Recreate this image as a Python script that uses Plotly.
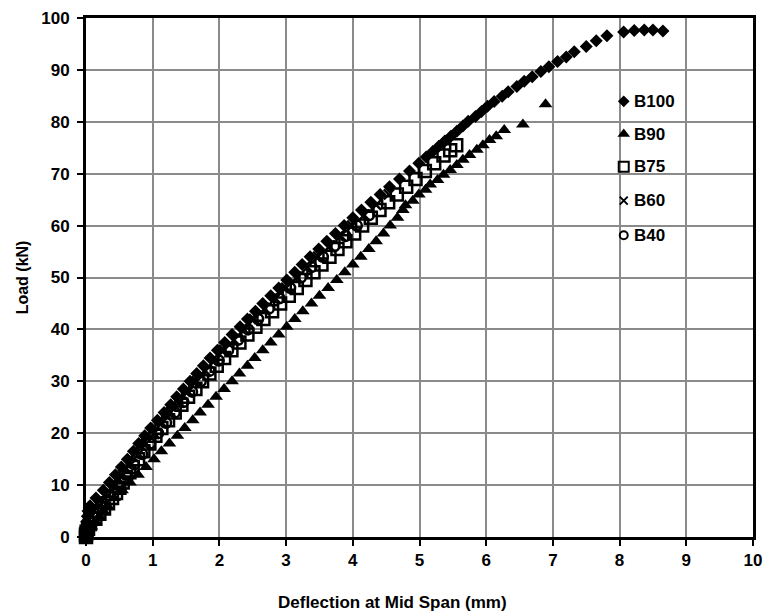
import plotly.graph_objects as go

# ---- data (deflection in mm, load in kN) ----
b100_load = [0, 1, 2, 3, 4, 5, 6, 7.5, 9, 10.5, 12, 13.5, 15, 16.5, 18, 19.5, 21, 22.5, 24, 25.5,
             27, 28.5, 30, 31.5, 33, 34.5, 36, 37.5, 39, 40.5, 42, 43.5, 45, 46.5, 48, 49.5, 51, 52.5,
             54, 55.5, 57, 58.5, 60, 61.5, 63, 64.5, 66, 67.5, 69, 70.5, 72, 73.2, 74.3, 75.3, 76.3,
             77.2, 78.2, 79.2, 80.1, 81.0, 82.0, 83.0, 83.9, 84.9, 85.8, 86.8, 87.8, 88.7, 89.7, 90.6,
             91.6, 92.5, 93.5, 94.5, 95.6, 96.6, 97.3, 97.6, 97.7, 97.7, 97.5]
b100_defl = [0, 0, 0, 0.01, 0.02, 0.03, 0.06, 0.15, 0.26, 0.35, 0.44, 0.53, 0.62, 0.71, 0.79, 0.88, 0.97, 1.07, 1.17, 1.27,
             1.36, 1.46, 1.56, 1.66, 1.76, 1.86, 1.97, 2.08, 2.19, 2.31, 2.42, 2.54, 2.65, 2.77, 2.89, 3.01, 3.13, 3.24,
             3.36, 3.49, 3.61, 3.74, 3.87, 4.00, 4.13, 4.27, 4.41, 4.55, 4.70, 4.85, 4.99, 5.10, 5.20, 5.29, 5.38,
             5.47, 5.56, 5.65, 5.73, 5.84, 5.93, 6.02, 6.12, 6.24, 6.33, 6.46, 6.57, 6.69, 6.82, 6.94,
             7.07, 7.20, 7.32, 7.50, 7.65, 7.81, 8.06, 8.22, 8.37, 8.50, 8.65]

b90_load = [0, 1, 2, 3, 4, 5, 6, 7.5, 9, 10.5, 12, 13.5, 15, 16.5, 18, 19.5, 21, 22.5, 24, 25.5,
            27, 28.5, 30, 31.5, 33, 34.5, 36, 37.5, 39, 40.5, 42, 43.5, 45, 46.5, 48, 49.5, 51, 52.5,
            54, 55.5, 57, 58.5, 60, 61.5, 63, 63.9, 64.8, 66, 66.9, 67.9, 68.8, 69.8, 70.7, 71.7, 72.7,
            73.6, 74.6, 75.5, 76.5, 77.2, 78.4, 79.5, 83.4]
b90_defl = [0, 0.03, 0.08, 0.14, 0.20, 0.26, 0.32, 0.42, 0.54, 0.66, 0.78, 0.90, 1.02, 1.13, 1.25, 1.37, 1.48, 1.60, 1.71, 1.83,
            1.95, 2.07, 2.19, 2.30, 2.42, 2.53, 2.65, 2.77, 2.89, 3.01, 3.13, 3.25, 3.38, 3.50, 3.63, 3.76, 3.88, 4.00,
            4.12, 4.24, 4.35, 4.46, 4.56, 4.67, 4.75, 4.79, 4.90, 4.99, 5.09, 5.16, 5.27, 5.36, 5.46, 5.56, 5.65,
            5.75, 5.86, 5.95, 6.05, 6.15, 6.27, 6.55, 6.89]

b75_load = [0, 0.5, 1.0, 1.6, 2.5, 3.5, 4.5, 5.5, 6.5, 7.5, 8.5, 9.5, 10.5, 11.5, 12.5, 13.5, 15, 16.5, 18, 19.5,
            21, 22.5, 24, 25.5, 27, 28.5, 30, 31.5, 33, 34.5, 36, 37.5, 39, 40.5, 42, 43.5, 45, 46.5, 48,
            49.5, 51, 52.5, 54, 55.5, 57, 58.5, 60, 61.5, 63, 64.5, 66, 67.5, 69, 70.5, 72, 73.5, 74.5, 75.5]
b75_defl = [0, 0, 0.01, 0.03, 0.06, 0.14, 0.20, 0.27, 0.33, 0.39, 0.45, 0.50, 0.55, 0.60, 0.65, 0.70, 0.78, 0.86, 0.95, 1.04,
            1.13, 1.23, 1.33, 1.43, 1.53, 1.64, 1.74, 1.85, 1.96, 2.07, 2.18, 2.30, 2.42, 2.54, 2.66, 2.79, 2.91, 3.04, 3.16,
            3.29, 3.41, 3.53, 3.65, 3.77, 3.89, 4.02, 4.14, 4.27, 4.40, 4.53, 4.66, 4.80, 4.94, 5.08, 5.22, 5.36, 5.46, 5.55]

b60_load = [0, 2, 4, 6, 8, 10, 12, 14, 16, 18, 20, 22, 24, 26, 28, 30, 32, 34, 36, 38, 40, 42, 44,
            46, 48, 50, 52, 54, 56, 58, 60, 62, 64, 66]
b60_defl = [0, 0.02, 0.08, 0.20, 0.33, 0.45, 0.56, 0.67, 0.79, 0.90, 1.02, 1.14, 1.27, 1.40, 1.53, 1.66, 1.79, 1.93,
            2.07, 2.22, 2.37, 2.52, 2.68, 2.84, 3.00, 3.16, 3.32, 3.48, 3.65, 3.82, 3.99, 4.17, 4.35, 4.54]

b40_load = [0, 2, 4, 6, 8, 10, 12, 14, 16, 18, 20, 22, 24, 26, 28, 30, 32, 34, 36, 38, 40, 42, 44,
            46, 48, 50, 52, 54, 56, 58, 60, 62]
b40_defl = [0, 0.03, 0.10, 0.22, 0.35, 0.48, 0.60, 0.72, 0.84, 0.96, 1.08, 1.20, 1.33, 1.46, 1.59, 1.72, 1.85, 1.99,
            2.13, 2.28, 2.43, 2.58, 2.74, 2.90, 3.06, 3.22, 3.38, 3.55, 3.72, 3.89, 4.06, 4.24]

series_names = ["B100", "B90", "B75", "B60", "B40"]
x_ticks = [0, 1, 2, 3, 4, 5, 6, 7, 8, 9, 10]
y_ticks = [0, 10, 20, 30, 40, 50, 60, 70, 80, 90, 100]

FONT = "Liberation Sans, Arial, sans-serif"

# plot area in pixels
L_PX, R_PX, T_PX, B_PX = 86, 762, 14, 537
W, H = 771, 615

markers = [
    dict(symbol="diamond", size=10, color="black"),
    dict(symbol="triangle-up", size=12, color="black"),
    dict(symbol="square-open", size=12, color="black", line=dict(width=2.5, color="black")),
    dict(symbol="x-thin-open", size=10, color="black", line=dict(width=2.5, color="black")),
    dict(symbol="circle-open", size=10, color="black", line=dict(width=2.5, color="black")),
]
data = [(b100_defl, b100_load), (b90_defl, b90_load), (b75_defl, b75_load),
        (b60_defl, b60_load), (b40_defl, b40_load)]

fig = go.Figure()
for name, (xs, ys), mk in zip(series_names, data, markers):
    assert len(xs) == len(ys), name
    fig.add_trace(go.Scatter(x=xs, y=ys, mode="markers", name=name, marker=mk,
                             showlegend=False, cliponaxis=False))

# manual legend (positions in paper fractions of the plot area)
leg_x = (631 - L_PX) / (R_PX - L_PX)
leg_text_x = (639 - L_PX) / (R_PX - L_PX)
leg_rows_px = [98, 131, 164, 198, 233]
leg_y = [(B_PX - p) / (B_PX - T_PX) for p in leg_rows_px]
legend_markers = [
    dict(symbol="diamond", size=9, color="black"),
    dict(symbol="triangle-up", size=11, color="black"),
    dict(symbol="square-open", size=10, color="black", line=dict(width=2, color="black")),
    dict(symbol="x-thin-open", size=8, color="black", line=dict(width=2, color="black")),
    dict(symbol="circle-open", size=8, color="black", line=dict(width=2, color="black")),
]
for name, yy, mk in zip(series_names, leg_y, legend_markers):
    fig.add_trace(go.Scatter(x=[leg_x], y=[yy], mode="markers", marker=mk, xaxis="x2", yaxis="y2",
                             showlegend=False, hoverinfo="skip", cliponaxis=False))

axis_common = dict(
    showline=True, linecolor="black", linewidth=3, mirror=True,
    showgrid=True, gridcolor="#8a8a8a", gridwidth=2,
    ticks="outside", ticklen=6, tickwidth=1.5, tickcolor="black",
    tickfont=dict(family=FONT, size=17, color="black", weight="bold"),
    zeroline=False,
)

fig.update_xaxes(range=[0, 10], tickvals=x_ticks, **axis_common)
fig.update_yaxes(range=[0, 100], tickvals=y_ticks, ticklabelstandoff=4, **axis_common)

annotations = [
    dict(text="<b>Deflection at Mid Span (mm)</b>", xref="paper", yref="paper",
         x=(397 - L_PX) / (R_PX - L_PX), y=-(603 - B_PX) / (B_PX - T_PX), xanchor="center", yanchor="middle",
         showarrow=False, font=dict(family=FONT, size=17, color="black")),
    dict(text="<b>Load (kN)</b>", xref="paper", yref="paper",
         x=-(L_PX - 22) / (R_PX - L_PX), y=0.5, xanchor="center", yanchor="middle", textangle=-90,
         showarrow=False, font=dict(family=FONT, size=16, color="black")),
]
for name, yy in zip(series_names, leg_y):
    annotations.append(dict(text="<b>" + name + "</b>", xref="paper", yref="paper",
                            x=leg_text_x, y=yy, xanchor="left", yanchor="middle", showarrow=False,
                            font=dict(family=FONT, size=17, color="black")))

fig.update_layout(
    width=W, height=H,
    margin=dict(l=L_PX, r=W - R_PX, t=T_PX, b=H - B_PX),
    plot_bgcolor="white", paper_bgcolor="white",
    font=dict(family=FONT, color="black"),
    showlegend=False,
    xaxis2=dict(overlaying="x", range=[0, 1], visible=False, fixedrange=True),
    yaxis2=dict(overlaying="y", range=[0, 1], visible=False, fixedrange=True),
    annotations=annotations,
)

fig.write_html("out.html")
